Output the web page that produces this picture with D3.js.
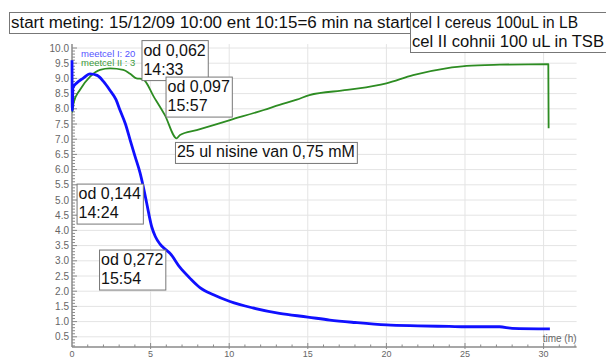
<!DOCTYPE html>
<html>
<head>
<meta charset="utf-8">
<script src="https://cdn.jsdelivr.net/npm/d3@7"></script>
<style>
  body { margin: 0; background: white; }
  svg { display: block; }
</style>
</head>
<body>
<script>
// meetcel I (blue) - time in hours, value
const blueTimes  = [0, 0.02, 0.06, 0.3, 0.7, 1.15, 1.6, 2.0, 2.4, 2.8, 3.05, 3.4, 3.7, 4.0, 4.33, 4.55, 4.75, 5.07, 5.3, 5.6, 6.0, 6.23, 6.87, 7.5, 8.14, 9, 10.05, 11.5, 13.2, 15, 16.4, 18, 20, 22, 24, 25.1, 27.2, 28, 30.4]
const blueValues = [9.6, 7.95, 8.7, 8.85, 9.0, 9.15, 9.1, 8.9, 8.62, 8.3, 7.96, 7.5, 6.97, 6.45, 5.89, 5.4, 4.9, 4.12, 3.8, 3.55, 3.35, 3.25, 2.78, 2.43, 2.12, 1.88, 1.66, 1.45, 1.27, 1.15, 1.05, 0.97, 0.89, 0.86, 0.84, 0.83, 0.83, 0.78, 0.76]

// meetcel II (green)
const greenTimes  = [0, 0.02, 0.1, 0.5, 1.15, 1.78, 2.42, 3.26, 3.7, 4.1, 4.5, 5.2, 5.9, 6.66, 6.87, 7.93, 10.05, 12.2, 13.2, 14.3, 15.1, 17.5, 20, 21.7, 23.8, 25.1, 27.2, 30.3, 30.32]
const greenValues = [8.45, 7.9, 8.2, 8.62, 9.06, 9.28, 9.33, 9.28, 9.15, 9.0, 8.98, 8.4, 7.8, 7.03, 7.14, 7.3, 7.63, 7.96, 8.13, 8.3, 8.45, 8.62, 8.84, 9.11, 9.33, 9.41, 9.45, 9.47, 7.36]

const xTicks = [0, 5, 10, 15, 20, 25, 30]
const yTicks = d3.range(1, 21).map(i => i * 0.5)

const legendLabels = ["meetcel I: 20", "meetcel II : 3"]

const titleLeft = ["start meting: 15/12/09 10:00 ent 10:15=6 min na start"]
const titleRight = ["cel I cereus 100uL in LB", "cel II cohnii 100 uL in TSB"]

// annotations: anchor (top-left) in data coords, lines of text
const noteTimes  = [4.42, 5.95, 6.55, 0.29, 1.72]
const noteValues = [10.26, 9.06, 6.91, 5.54, 3.37]
const noteTexts  = [["od 0,062", "14:33"], ["od 0,097", "15:57"], ["25 ul nisine van 0,75 mM"], ["od 0,144", "14:24"], ["od 0,272", "15:54"]]

const width = 606
const height = 358

const x = d3.scaleLinear().domain([0, 32.1]).range([72, 576.6])
const y = d3.scaleLinear().domain([0, 10]).range([352, 48])
const yTop = 10.13
const yBottom = 0.164

const svg = d3.select("body").append("svg")
    .attr("width", width)
    .attr("height", height)
    .style("background", "white")

const font = "Tahoma, 'Liberation Sans', Arial, sans-serif"

// gridlines
svg.append("g").selectAll("line")
    .data(yTicks)
    .enter().append("line")
    .attr("x1", x(0)).attr("x2", x(32.1))
    .attr("y1", d => y(d)).attr("y2", d => y(d))
    .attr("stroke", "#e4e4e4").attr("stroke-width", 1)

svg.append("g").selectAll("line")
    .data(xTicks.slice(1))
    .enter().append("line")
    .attr("x1", d => x(d)).attr("x2", d => x(d))
    .attr("y1", y(yTop)).attr("y2", y(yBottom))
    .attr("stroke", "#e4e4e4").attr("stroke-width", 1)

// axes
const axisColor = "#8a8a8a"
svg.append("line")
    .attr("x1", x(0)).attr("x2", x(0))
    .attr("y1", y(yTop)).attr("y2", y(yBottom))
    .attr("stroke", axisColor).attr("stroke-width", 1.5)
svg.append("line")
    .attr("x1", x(0)).attr("x2", x(32.1))
    .attr("y1", y(yBottom)).attr("y2", y(yBottom))
    .attr("stroke", axisColor).attr("stroke-width", 1.5)

// y minor/major ticks (pointing inward)
const yMinor = d3.range(2, 101).map(i => i / 10)
svg.append("g").selectAll("line")
    .data(yMinor)
    .enter().append("line")
    .attr("x1", x(0))
    .attr("x2", d => x(0) + (Math.round(d * 10) % 5 === 0 ? 5 : 3))
    .attr("y1", d => y(d)).attr("y2", d => y(d))
    .attr("stroke", axisColor).attr("stroke-width", 1)

svg.append("g").selectAll("text")
    .data(yTicks)
    .enter().append("text")
    .attr("x", x(0) - 3)
    .attr("y", d => y(d) + 3.5)
    .attr("text-anchor", "end")
    .style("font-family", font)
    .style("font-size", "10px")
    .attr("fill", "#666")
    .text(d => d.toFixed(1))

// x ticks
const xMinor = d3.range(1, 33)
svg.append("g").selectAll("line")
    .data(xMinor)
    .enter().append("line")
    .attr("x1", d => x(d)).attr("x2", d => x(d))
    .attr("y1", d => y(yBottom) - (d % 5 === 0 ? 4 : 2.5))
    .attr("y2", d => y(yBottom) + (d % 5 === 0 ? 2 : 0))
    .attr("stroke", axisColor).attr("stroke-width", 1)

svg.append("g").selectAll("text")
    .data(xTicks)
    .enter().append("text")
    .attr("x", d => x(d))
    .attr("y", y(yBottom) + 9.5)
    .attr("text-anchor", "middle")
    .style("font-family", font)
    .style("font-size", "9px")
    .attr("fill", "#666")
    .text(d => d)

svg.append("text")
    .attr("x", x(32.1))
    .attr("y", y(yBottom) - 5)
    .attr("text-anchor", "end")
    .style("font-family", font)
    .style("font-size", "10px")
    .attr("fill", "#666")
    .text("time (h)")

// lines
const line = d3.line().x(d => x(d[0])).y(d => y(d[1])).curve(d3.curveMonotoneX)
const blueData = blueTimes.map((t, i) => [t, blueValues[i]])
const greenData = greenTimes.map((t, i) => [t, greenValues[i]])

svg.append("path")
    .datum(greenData)
    .attr("d", line)
    .attr("fill", "none")
    .attr("stroke", "#2d8c22")
    .attr("stroke-width", 1.8)
    .attr("stroke-linejoin", "round")

svg.append("path")
    .datum(blueData)
    .attr("d", line)
    .attr("fill", "none")
    .attr("stroke", "#1010ff")
    .attr("stroke-width", 2.8)
    .attr("stroke-linejoin", "round")

// legend
svg.selectAll(".legend")
    .data(legendLabels)
    .enter().append("text")
    .attr("x", x(0) + 9)
    .attr("y", (d, i) => 56.5 + i * 9.5)
    .style("font-family", font)
    .style("font-size", "9.5px")
    .attr("fill", (d, i) => i === 0 ? "#5555ff" : "#3c9a3c")
    .text(d => d)

// boxed labels
const boxLabel = (left, top, lines, size, fitWidths, boxWidth) => {
    const g = svg.append("g")
    const rect = g.append("rect")
    const texts = g.selectAll("text")
        .data(lines)
        .enter().append("text")
        .attr("x", left + 1.5)
        .attr("y", (d, i) => top + 15 + i * 19)
        .style("font-family", font)
        .style("font-size", size + "px")
        .attr("fill", "#111")
        .text(d => d)
    if (fitWidths) {
        texts.attr("textLength", (d, i) => fitWidths[i]).attr("lengthAdjust", "spacingAndGlyphs")
    }
    let w = 0
    texts.each(function() { w = Math.max(w, this.getComputedTextLength()) })
    rect.attr("x", left).attr("y", top)
        .attr("width", boxWidth || w + 4)
        .attr("height", lines.length * 19 + 2)
        .attr("fill", "white")
        .attr("stroke", "#777")
        .attr("stroke-width", 1)
    return g
}

noteTexts.forEach((lines, i) => boxLabel(x(noteTimes[i]) + 0.5, y(noteValues[i]) + 0.5, lines, 16))

boxLabel(9.5, 12.5, titleLeft, 16, [399], 401)
boxLabel(410.5, 12.5, titleRight, 16, [166, 192], 205)
</script>
</body>
</html>
